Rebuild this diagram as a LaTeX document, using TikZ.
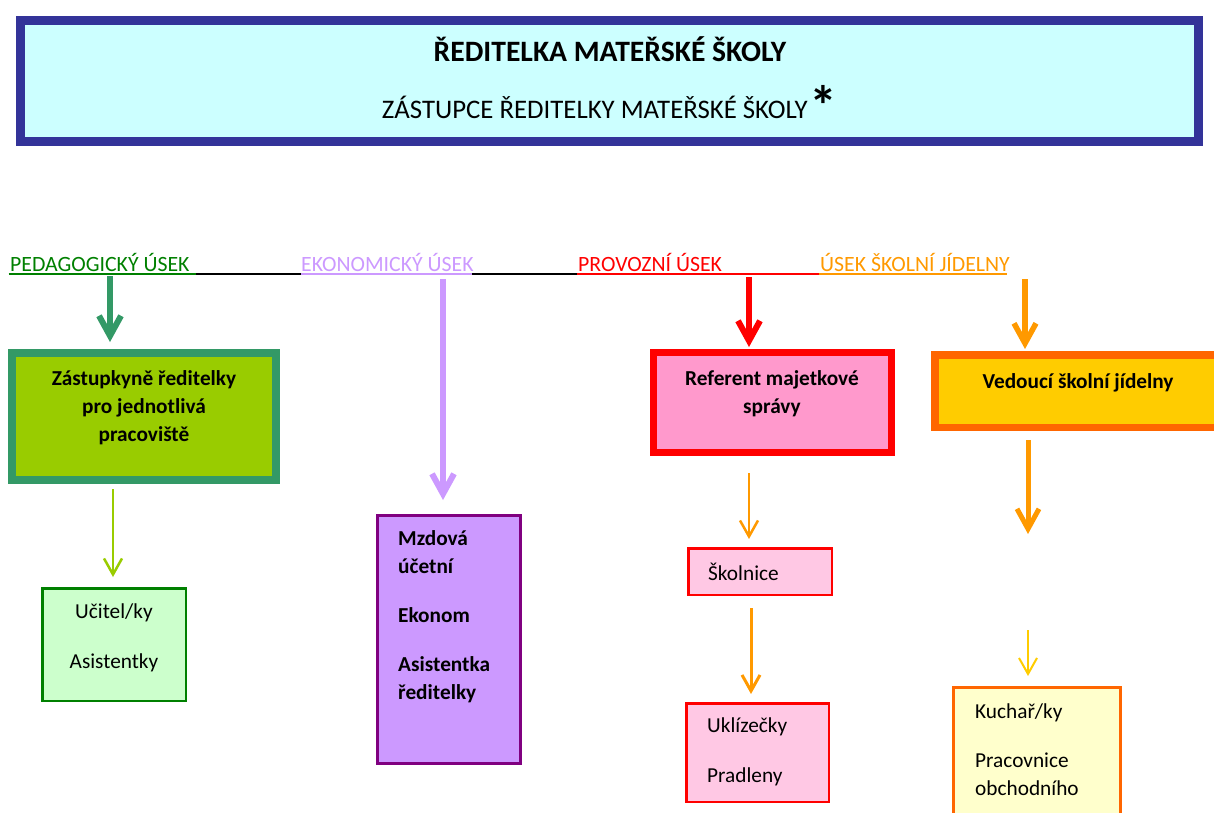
\documentclass[tikz,border=0pt]{standalone}
\usepackage{fontspec}
\setmainfont{Carlito}
\usetikzlibrary{arrows.meta}
\definecolor{head_blue}{RGB}{51,51,153}
\definecolor{head_fill}{RGB}{204,255,255}
\definecolor{text_green}{RGB}{0,128,0}
\definecolor{edge_green}{RGB}{51,153,102}
\definecolor{node_green}{RGB}{153,204,0}
\definecolor{light_green}{RGB}{204,255,204}
\definecolor{node_lila}{RGB}{204,153,255}
\definecolor{edge_lila}{RGB}{128,0,128}
\definecolor{node_pink}{RGB}{255,153,204}
\definecolor{light_pink}{RGB}{255,200,228}
\definecolor{edge_orange}{RGB}{255,153,0}
\definecolor{dark_orange}{RGB}{255,102,0}
\definecolor{node_yell}{RGB}{255,204,0}
\definecolor{light_yell}{RGB}{255,255,204}

\begin{document}
\begin{tikzpicture}[x=1pt,y=-1pt]
    \tikzstyle{unit}=[draw, rectangle, inner sep=0pt]
    \tikzstyle{unithead}=[style=unit, fill=head_fill, draw=head_blue, line width=9pt]
    \tikzstyle{unitgreen}=[style=unit, fill=node_green, draw=edge_green, line width=8pt]
    \tikzstyle{unitlgreen}=[style=unit, fill=light_green, draw=text_green, line width=2.5pt]
    \tikzstyle{unitlila}=[style=unit, fill=node_lila, draw=edge_lila, line width=3pt]
    \tikzstyle{unitpink}=[style=unit, fill=node_pink, draw=red, line width=7pt]
    \tikzstyle{unitlpink}=[style=unit, fill=light_pink, draw=red, line width=2.5pt]
    \tikzstyle{unityell}=[style=unit, fill=node_yell, draw=dark_orange, line width=7.5pt]
    \tikzstyle{unitlyell}=[style=unit, fill=light_yell, draw=dark_orange, line width=3pt]
    \tikzstyle{section}=[inner sep=0pt, anchor=base west, font=\fontsize{21.8}{25}\selectfont]
    \tikzstyle{boldtext}=[inner sep=0pt, align=center, font=\fontsize{21.3}{28}\selectfont\bfseries]
    \tikzstyle{plaintext}=[inner sep=0pt, align=left, font=\fontsize{21.3}{28}\selectfont]
    \tikzstyle{bigarrow}=[line width=6pt, -{Straight Barb[length=20pt,width=22pt]}]
    \tikzstyle{smallarrow}=[line width=2.5pt, -{Straight Barb[length=16pt,width=18pt]}]

    \useasboundingbox (0,0) rectangle (1214,812);
    \clip (0,0) rectangle (1214,812);

    % header
    \node[unithead, minimum width=1178pt, minimum height=121pt] (head) at (609.5,81) {};
    \node[inner sep=0pt, anchor=base, font=\fontsize{29.6}{34}\selectfont\bfseries] (headt) at (610,61) {ŘEDITELKA MATEŘSKÉ ŠKOLY};
    \node[inner sep=0pt, anchor=base east, font=\fontsize{26.8}{30}\selectfont] (subt) at (808,118) {ZÁSTUPCE ŘEDITELKY MATEŘSKÉ ŠKOLY};
    \node[inner sep=0pt, anchor=north, font=\fontsize{56}{60}\selectfont\bfseries] (star) at (823,85) {*};

    % sections
    \node[section, text=text_green]  (ped)  at (10,271)  {PEDAGOGICKÝ ÚSEK};
    \node[section, text=node_lila]   (eko)  at (301,271) {EKONOMICKÝ ÚSEK};
    \node[section, text=red]         (prov) at (578,271) {PROVOZNÍ ÚSEK};
    \node[section, text=edge_orange] (jid)  at (820,271) {ÚSEK ŠKOLNÍ JÍDELNY};
    \foreach \a/\b/\c in {8.5/196/text_green, 196/301/black, 301/472/node_lila,
                          472/577/black, 577/819/red, 819/1007/edge_orange}
      \draw[\c, line width=2pt] (\a,273.5) -- (\b,273.5);

    % boxes
    \node[unitgreen,  minimum width=264pt,   minimum height=127pt]  (zast) at (144,416.5)   {};
    \node[unitlgreen, minimum width=143.5pt, minimum height=112.5pt] (ucit) at (114,644.5)  {};
    \node[unitlila,   minimum width=143pt,   minimum height=248pt]  (mzda) at (449,639.5)   {};
    \node[unitpink,   minimum width=238pt,   minimum height=100pt]  (ref)  at (772.5,402.5) {};
    \node[unitlpink,  minimum width=143.5pt, minimum height=46.5pt] (skol) at (760,571.5)   {};
    \node[unitlpink,  minimum width=142.5pt, minimum height=98.5pt] (ukl)  at (757.5,752.5) {};
    \node[unityell,   minimum width=291.5pt, minimum height=72.5pt] (ved)  at (1080.5,391)  {};
    \node[unitlyell,  minimum width=167pt,   minimum height=161pt]  (kuch) at (1037,768)    {};

    % texts
    \node[boldtext]  (zastt) at (144,408)  {Zástupkyně ředitelky\\pro jednotlivá\\pracoviště};
    \node[plaintext, align=center] (ucitt) at (114,638) {Učitel/ky\\[22pt]Asistentky};
    \node[boldtext, align=left, anchor=west] (mzdat) at (398,617)
         {Mzdová\\účetní\\[21pt]Ekonom\\[21pt]Asistentka\\ředitelky};
    \node[boldtext]  (reft)  at (772,394)  {Referent majetkové\\správy};
    \node[plaintext, anchor=west] (skolt) at (708,572) {Školnice};
    \node[plaintext, anchor=west] (uklt)  at (707,752) {Uklízečky\\[22pt]Pradleny};
    \node[boldtext]  (vedt)  at (1078,383) {Vedoucí školní jídelny};
    \node[plaintext, anchor=west] (kucht) at (975,750) {Kuchař/ky\\[21pt]Pracovnice\\obchodního};

    % arrows
    \draw[bigarrow, edge_green, shorten <=5pt, shorten >=7pt] (ped.south -| 110,0) -- (zast.north -| 110,0);
    \draw[bigarrow, node_lila, shorten <=8pt, shorten >=14pt] (eko.south -| 443,0) -- (mzda.north -| 443,0);
    \draw[bigarrow, red, shorten <=6pt, shorten >=2pt] (prov.south -| 749,0) -- (ref.north -| 749,0);
    \draw[bigarrow, edge_orange, line width=5.5pt, shorten <=8pt, shorten >=2pt] (jid.south -| 1025,0) -- (ved.north -| 1025,0);
    \draw[smallarrow, node_green, shorten <=5pt, shorten >=10pt] (zast.south -| 113,0) -- (ucit.north -| 113,0);
    \draw[smallarrow, edge_orange, shorten <=17pt, shorten >=8pt] (ref.south -| 749,0) -- (skol.north -| 749,0);
    \draw[smallarrow, edge_orange, line width=3pt, shorten <=12pt, shorten >=8pt] (skol.south -| 751,0) -- (ukl.north -| 751,0);
    \draw[bigarrow, edge_orange, line width=5pt, shorten <=9pt, shorten >=152pt] (ved.south -| 1028,0) -- (kuch.north -| 1028,0);
    \draw[smallarrow, node_yell, line width=2pt, shorten <=199pt, shorten >=10pt] (ved.south -| 1028,0) -- (kuch.north -| 1028,0);
\end{tikzpicture}
\end{document}
